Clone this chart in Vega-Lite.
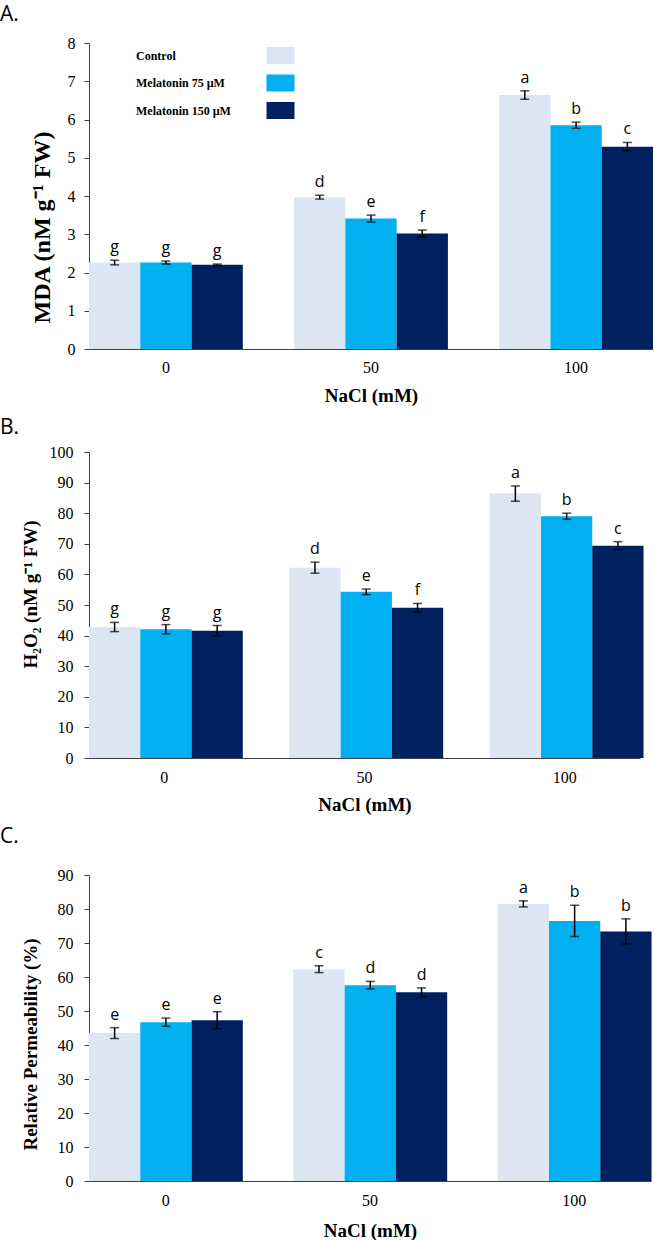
{
  "$schema": "https://vega.github.io/schema/vega-lite/v6.json",
  "padding": {"top": 4, "left": 0, "right": 0, "bottom": 0},
  "background": "white",
  "datasets": {
    "mda": [
      {"NaCl": "0", "Treatment": "Control", "value": 2.26, "lo": 2.20, "hi": 2.32, "letter": "g"},
      {"NaCl": "0", "Treatment": "Melatonin 75 µM", "value": 2.26, "lo": 2.22, "hi": 2.30, "letter": "g"},
      {"NaCl": "0", "Treatment": "Melatonin 150 µM", "value": 2.20, "lo": 2.18, "hi": 2.22, "letter": "g"},
      {"NaCl": "50", "Treatment": "Control", "value": 3.97, "lo": 3.92, "hi": 4.02, "letter": "d"},
      {"NaCl": "50", "Treatment": "Melatonin 75 µM", "value": 3.41, "lo": 3.32, "hi": 3.50, "letter": "e"},
      {"NaCl": "50", "Treatment": "Melatonin 150 µM", "value": 3.02, "lo": 2.93, "hi": 3.11, "letter": "f"},
      {"NaCl": "100", "Treatment": "Control", "value": 6.64, "lo": 6.53, "hi": 6.75, "letter": "a"},
      {"NaCl": "100", "Treatment": "Melatonin 75 µM", "value": 5.85, "lo": 5.77, "hi": 5.93, "letter": "b"},
      {"NaCl": "100", "Treatment": "Melatonin 150 µM", "value": 5.29, "lo": 5.18, "hi": 5.40, "letter": "c"}
    ],
    "h2o2": [
      {"NaCl": "0", "Treatment": "Control", "value": 42.8, "lo": 41.3, "hi": 44.3, "letter": "g"},
      {"NaCl": "0", "Treatment": "Melatonin 75 µM", "value": 42.1, "lo": 40.6, "hi": 43.6, "letter": "g"},
      {"NaCl": "0", "Treatment": "Melatonin 150 µM", "value": 41.6, "lo": 39.9, "hi": 43.3, "letter": "g"},
      {"NaCl": "50", "Treatment": "Control", "value": 62.2, "lo": 60.4, "hi": 64.0, "letter": "d"},
      {"NaCl": "50", "Treatment": "Melatonin 75 µM", "value": 54.3, "lo": 53.4, "hi": 55.2, "letter": "e"},
      {"NaCl": "50", "Treatment": "Melatonin 150 µM", "value": 49.1, "lo": 47.7, "hi": 50.5, "letter": "f"},
      {"NaCl": "100", "Treatment": "Control", "value": 86.4, "lo": 83.9, "hi": 88.9, "letter": "a"},
      {"NaCl": "100", "Treatment": "Melatonin 75 µM", "value": 79.0, "lo": 78.0, "hi": 80.0, "letter": "b"},
      {"NaCl": "100", "Treatment": "Melatonin 150 µM", "value": 69.4, "lo": 68.1, "hi": 70.7, "letter": "c"}
    ],
    "perm": [
      {"NaCl": "0", "Treatment": "Control", "value": 43.5, "lo": 41.9, "hi": 45.1, "letter": "e"},
      {"NaCl": "0", "Treatment": "Melatonin 75 µM", "value": 46.7, "lo": 45.5, "hi": 47.9, "letter": "e"},
      {"NaCl": "0", "Treatment": "Melatonin 150 µM", "value": 47.3, "lo": 44.8, "hi": 49.8, "letter": "e"},
      {"NaCl": "50", "Treatment": "Control", "value": 62.3, "lo": 61.3, "hi": 63.3, "letter": "c"},
      {"NaCl": "50", "Treatment": "Melatonin 75 µM", "value": 57.6, "lo": 56.5, "hi": 58.7, "letter": "d"},
      {"NaCl": "50", "Treatment": "Melatonin 150 µM", "value": 55.5, "lo": 54.2, "hi": 56.8, "letter": "d"},
      {"NaCl": "100", "Treatment": "Control", "value": 81.5, "lo": 80.6, "hi": 82.4, "letter": "a"},
      {"NaCl": "100", "Treatment": "Melatonin 75 µM", "value": 76.5, "lo": 71.9, "hi": 81.1, "letter": "b"},
      {"NaCl": "100", "Treatment": "Melatonin 150 µM", "value": 73.4, "lo": 69.7, "hi": 77.1, "letter": "b"}
    ]
  },
  "config": {
    "view": {"stroke": null},
    "axis": {
      "domainColor": "#404040", "tickColor": "#404040", "grid": false, "labelOverlap": false,
      "labelFont": "Liberation Serif", "labelFontSize": 16, "labelColor": "black",
      "titleFont": "Liberation Serif", "titleFontSize": 19, "titleFontWeight": "bold", "titleColor": "black"
    },
    "title": {"font": "Open Sans", "fontSize": 21, "fontWeight": "normal", "anchor": "start", "frame": "group", "color": "black"},
    "concat": {"spacing": 12}
  },
  "resolve": {"scale": {"color": "independent"}},
  "vconcat": [
    {
      "width": 564, "height": 306,
      "title": {"text": "A.", "dx": -89, "offset": 10},
      "data": {"name": "mda"},
      "encoding": {
        "x": {"field": "NaCl", "type": "nominal", "sort": ["0", "50", "100"], "scale": {"paddingInner": 0.25, "paddingOuter": 0}, "axis": {"title": "NaCl (mM)", "labelAngle": 0, "ticks": false, "labelPadding": 10, "titlePadding": 11}},
        "xOffset": {"field": "Treatment", "type": "nominal", "sort": ["Control", "Melatonin 75 µM", "Melatonin 150 µM"], "scale": {"paddingInner": 0, "paddingOuter": 0}}
      },
      "layer": [
        {
          "mark": {"type": "bar"},
          "encoding": {
            "y": {"field": "value", "type": "quantitative", "scale": {"domain": [0, 8], "nice": false}, "axis": {"title": "MDA (nM g⁻¹ FW)", "values": [0, 1, 2, 3, 4, 5, 6, 7, 8], "tickSize": 5, "labelPadding": 9, "titlePadding": 13, "titleY": 184, "titleFontSize": 24}},
            "color": {"field": "Treatment", "type": "nominal", "scale": {"domain": ["Control", "Melatonin 75 µM", "Melatonin 150 µM"], "range": ["#DCE6F2", "#00B0F0", "#002060"]},
              "legend": {"orient": "none", "legendX": 51, "legendY": 0, "title": null, "direction": "vertical", "symbolType": "M-1.12,-0.68H1.12V0.68H-1.12Z", "symbolSize": 625, "symbolStrokeWidth": 0, "symbolOffset": 128, "labelOffset": -157, "labelFont": "Liberation Serif", "labelFontSize": 12, "labelFontWeight": "bold", "labelColor": "black", "rowPadding": 6.5, "padding": 0, "labelLimit": 200}}
          }
        },
        {"mark": {"type": "rule", "color": "black", "strokeWidth": 1.5}, "encoding": {"y": {"field": "lo", "type": "quantitative", "scale": {"domain": [0, 8], "nice": false}, "axis": {"title": "MDA (nM g⁻¹ FW)", "values": [0, 1, 2, 3, 4, 5, 6, 7, 8], "tickSize": 5, "labelPadding": 9, "titlePadding": 13, "titleY": 184, "titleFontSize": 24}}, "y2": {"field": "hi"}}},
        {"mark": {"type": "tick", "color": "black", "size": 9, "thickness": 1.5, "orient": "horizontal"}, "encoding": {"y": {"field": "hi", "type": "quantitative", "scale": {"domain": [0, 8], "nice": false}, "axis": {"title": "MDA (nM g⁻¹ FW)", "values": [0, 1, 2, 3, 4, 5, 6, 7, 8], "tickSize": 5, "labelPadding": 9, "titlePadding": 13, "titleY": 184, "titleFontSize": 24}}}},
        {"mark": {"type": "tick", "color": "black", "size": 9, "thickness": 1.5, "orient": "horizontal"}, "encoding": {"y": {"field": "lo", "type": "quantitative", "scale": {"domain": [0, 8], "nice": false}, "axis": {"title": "MDA (nM g⁻¹ FW)", "values": [0, 1, 2, 3, 4, 5, 6, 7, 8], "tickSize": 5, "labelPadding": 9, "titlePadding": 13, "titleY": 184, "titleFontSize": 24}}}},
        {"mark": {"type": "text", "font": "Open Sans", "fontSize": 16, "dy": -8, "baseline": "alphabetic", "color": "black"}, "encoding": {"y": {"field": "hi", "type": "quantitative", "scale": {"domain": [0, 8], "nice": false}, "axis": {"title": "MDA (nM g⁻¹ FW)", "values": [0, 1, 2, 3, 4, 5, 6, 7, 8], "tickSize": 5, "labelPadding": 9, "titlePadding": 13, "titleY": 184, "titleFontSize": 24}}, "text": {"field": "letter"}}}
      ]
    },
    {
      "width": 551, "height": 306,
      "title": {"text": "B.", "dx": -89, "offset": 6},
      "data": {"name": "h2o2"},
      "encoding": {
        "x": {"field": "NaCl", "type": "nominal", "sort": ["0", "50", "100"], "scale": {"paddingInner": 0.25, "paddingOuter": 0}, "axis": {"title": "NaCl (mM)", "labelAngle": 0, "ticks": false, "labelPadding": 11, "titlePadding": 10}},
        "xOffset": {"field": "Treatment", "type": "nominal", "sort": ["Control", "Melatonin 75 µM", "Melatonin 150 µM"], "scale": {"paddingInner": 0, "paddingOuter": 0}}
      },
      "layer": [
        {
          "mark": {"type": "bar"},
          "encoding": {
            "y": {"field": "value", "type": "quantitative", "scale": {"domain": [0, 100], "nice": false}, "axis": {"title": "H₂O₂ (nM g⁻¹ FW)", "values": [0, 10, 20, 30, 40, 50, 60, 70, 80, 90, 100], "tickSize": 5, "labelPadding": 11, "titlePadding": 9, "titleY": 142}},
            "color": {"field": "Treatment", "type": "nominal", "scale": {"domain": ["Control", "Melatonin 75 µM", "Melatonin 150 µM"], "range": ["#DCE6F2", "#00B0F0", "#002060"]}, "legend": null}
          }
        },
        {"mark": {"type": "rule", "color": "black", "strokeWidth": 1.5}, "encoding": {"y": {"field": "lo", "type": "quantitative", "scale": {"domain": [0, 100], "nice": false}, "axis": {"title": "H₂O₂ (nM g⁻¹ FW)", "values": [0, 10, 20, 30, 40, 50, 60, 70, 80, 90, 100], "tickSize": 5, "labelPadding": 11, "titlePadding": 9, "titleY": 142}}, "y2": {"field": "hi"}}},
        {"mark": {"type": "tick", "color": "black", "size": 9, "thickness": 1.5, "orient": "horizontal"}, "encoding": {"y": {"field": "hi", "type": "quantitative", "scale": {"domain": [0, 100], "nice": false}, "axis": {"title": "H₂O₂ (nM g⁻¹ FW)", "values": [0, 10, 20, 30, 40, 50, 60, 70, 80, 90, 100], "tickSize": 5, "labelPadding": 11, "titlePadding": 9, "titleY": 142}}}},
        {"mark": {"type": "tick", "color": "black", "size": 9, "thickness": 1.5, "orient": "horizontal"}, "encoding": {"y": {"field": "lo", "type": "quantitative", "scale": {"domain": [0, 100], "nice": false}, "axis": {"title": "H₂O₂ (nM g⁻¹ FW)", "values": [0, 10, 20, 30, 40, 50, 60, 70, 80, 90, 100], "tickSize": 5, "labelPadding": 11, "titlePadding": 9, "titleY": 142}}}},
        {"mark": {"type": "text", "font": "Open Sans", "fontSize": 16, "dy": -8, "baseline": "alphabetic", "color": "black"}, "encoding": {"y": {"field": "hi", "type": "quantitative", "scale": {"domain": [0, 100], "nice": false}, "axis": {"title": "H₂O₂ (nM g⁻¹ FW)", "values": [0, 10, 20, 30, 40, 50, 60, 70, 80, 90, 100], "tickSize": 5, "labelPadding": 11, "titlePadding": 9, "titleY": 142}}, "text": {"field": "letter"}}}
      ]
    },
    {
      "width": 562, "height": 306,
      "title": {"text": "C.", "dx": -89, "offset": 20},
      "data": {"name": "perm"},
      "encoding": {
        "x": {"field": "NaCl", "type": "nominal", "sort": ["0", "50", "100"], "scale": {"paddingInner": 0.25, "paddingOuter": 0}, "axis": {"title": "NaCl (mM)", "labelAngle": 0, "ticks": false, "labelPadding": 11, "titlePadding": 13}},
        "xOffset": {"field": "Treatment", "type": "nominal", "sort": ["Control", "Melatonin 75 µM", "Melatonin 150 µM"], "scale": {"paddingInner": 0, "paddingOuter": 0}}
      },
      "layer": [
        {
          "mark": {"type": "bar"},
          "encoding": {
            "y": {"field": "value", "type": "quantitative", "scale": {"domain": [0, 90], "nice": false}, "axis": {"title": "Relative Permeability (%)", "values": [0, 10, 20, 30, 40, 50, 60, 70, 80, 90], "tickSize": 5, "labelPadding": 11, "titlePadding": 17, "titleY": 169}},
            "color": {"field": "Treatment", "type": "nominal", "scale": {"domain": ["Control", "Melatonin 75 µM", "Melatonin 150 µM"], "range": ["#DCE6F2", "#00B0F0", "#002060"]}, "legend": null}
          }
        },
        {"mark": {"type": "rule", "color": "black", "strokeWidth": 1.5}, "encoding": {"y": {"field": "lo", "type": "quantitative", "scale": {"domain": [0, 90], "nice": false}, "axis": {"title": "Relative Permeability (%)", "values": [0, 10, 20, 30, 40, 50, 60, 70, 80, 90], "tickSize": 5, "labelPadding": 11, "titlePadding": 17, "titleY": 169}}, "y2": {"field": "hi"}}},
        {"mark": {"type": "tick", "color": "black", "size": 9, "thickness": 1.5, "orient": "horizontal"}, "encoding": {"y": {"field": "hi", "type": "quantitative", "scale": {"domain": [0, 90], "nice": false}, "axis": {"title": "Relative Permeability (%)", "values": [0, 10, 20, 30, 40, 50, 60, 70, 80, 90], "tickSize": 5, "labelPadding": 11, "titlePadding": 17, "titleY": 169}}}},
        {"mark": {"type": "tick", "color": "black", "size": 9, "thickness": 1.5, "orient": "horizontal"}, "encoding": {"y": {"field": "lo", "type": "quantitative", "scale": {"domain": [0, 90], "nice": false}, "axis": {"title": "Relative Permeability (%)", "values": [0, 10, 20, 30, 40, 50, 60, 70, 80, 90], "tickSize": 5, "labelPadding": 11, "titlePadding": 17, "titleY": 169}}}},
        {"mark": {"type": "text", "font": "Open Sans", "fontSize": 16, "dy": -8, "baseline": "alphabetic", "color": "black"}, "encoding": {"y": {"field": "hi", "type": "quantitative", "scale": {"domain": [0, 90], "nice": false}, "axis": {"title": "Relative Permeability (%)", "values": [0, 10, 20, 30, 40, 50, 60, 70, 80, 90], "tickSize": 5, "labelPadding": 11, "titlePadding": 17, "titleY": 169}}, "text": {"field": "letter"}}}
      ]
    }
  ]
}
